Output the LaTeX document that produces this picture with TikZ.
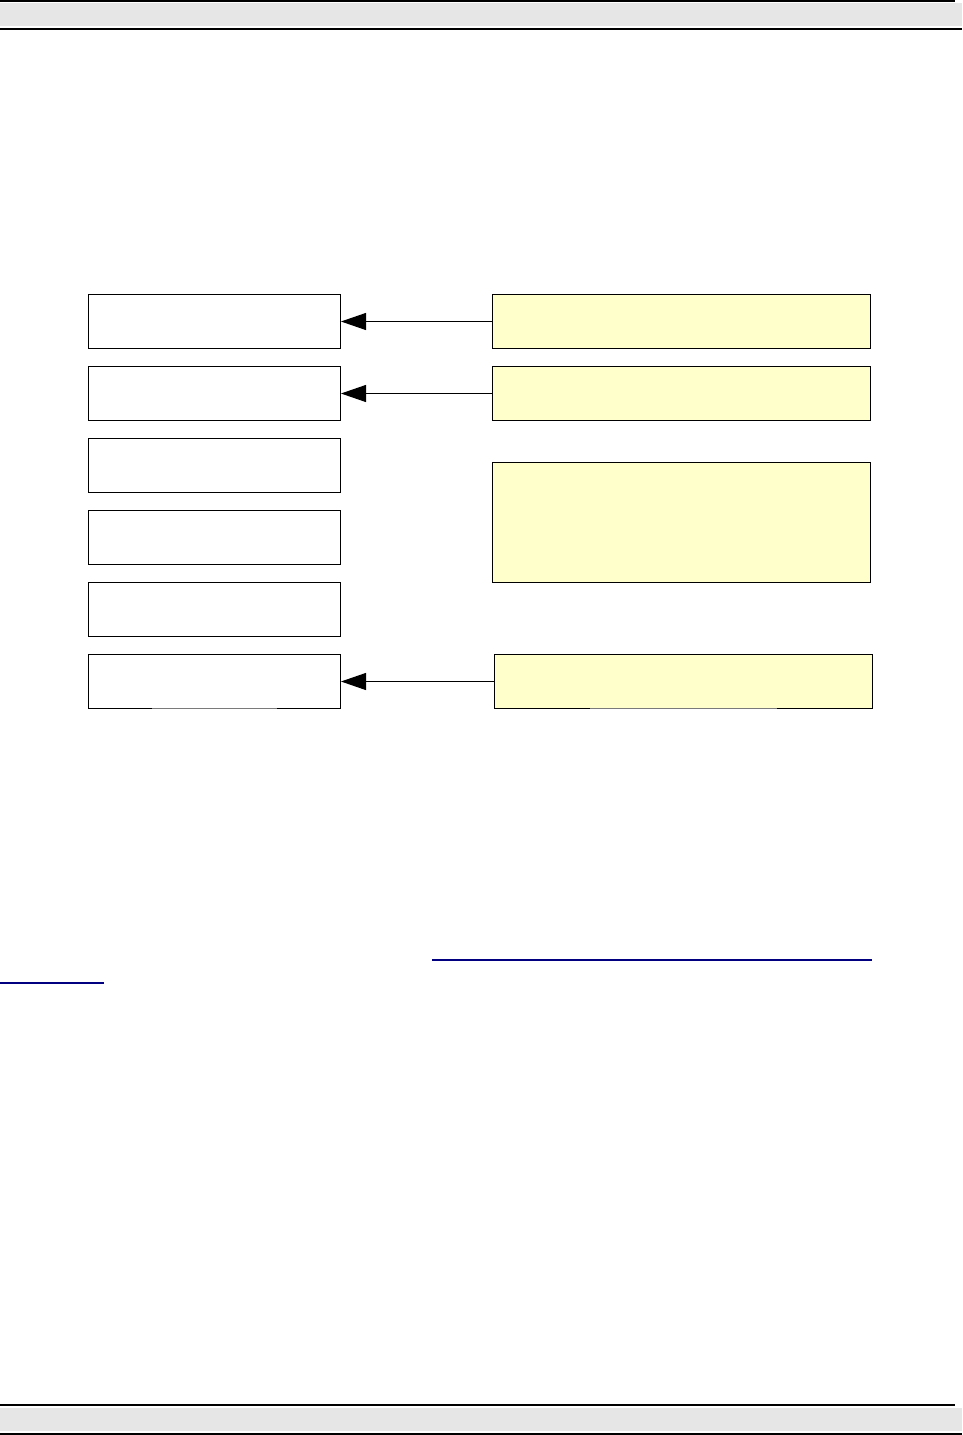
\documentclass[tikz,border=0pt]{standalone}
\usetikzlibrary{arrows.meta}
\definecolor{hdrgray}{HTML}{E6E6E6}
\definecolor{noteyellow}{HTML}{FFFFCC}
\definecolor{linkblue}{HTML}{000080}
\definecolor{edgegray}{HTML}{7A7A7A}
\begin{document}
\begin{tikzpicture}[x=1pt,y=-1pt,
  plainbox/.style={draw=black,line width=1pt,fill=white,inner sep=0pt,anchor=north west,minimum width=252pt,minimum height=54pt},
  notebox/.style={draw=black,line width=1pt,fill=noteyellow,inner sep=0pt,anchor=north west,minimum width=378pt},
  conn/.style={line width=1pt,-{Triangle[length=25pt,width=17pt]}}]
\useasboundingbox (0,0) rectangle (962,1435);
% header
\fill[hdrgray] (0,3) rectangle (962,26);
\draw[line width=1.5pt] (0,1) -- (955,1);
\draw[line width=1.5pt] (0,29) -- (962,29);
% footer
\fill[hdrgray] (0,1408) rectangle (962,1431);
\draw[line width=1.5pt] (0,1405) -- (955,1405);
\draw[line width=1.5pt] (0,1434) -- (962,1434);
% left boxes
\node[plainbox] (l1) at (88,294) {};
\node[plainbox] (l2) at (88,366) {};
\node[plainbox] (l3) at (88,438) {};
\node[plainbox] (l4) at (88,510) {};
\node[plainbox] (l5) at (88,582) {};
\node[plainbox] (l6) at (88,654) {};
% right notes
\node[notebox,minimum height=54pt] (r1) at (492,294) {};
\node[notebox,minimum height=54pt] (r2) at (492,366) {};
\node[notebox,minimum height=120pt] (r3) at (492,462) {};
\node[notebox,minimum height=54pt] (r6) at (494,654) {};
% gray bottom-edge segments
\draw[edgegray,line width=1pt] (152,708) -- (277,708);
\draw[edgegray,line width=1pt] (590,708) -- (777,708);
% connectors
\draw[conn] (r1.west) -- (l1.east);
\draw[conn] (r2.west) -- (l2.east);
\draw[conn] (r6.west) -- (l6.east);
% link underline
\draw[linkblue,line width=1.8pt] (432,960) -- (872,960);
\draw[linkblue,line width=1.8pt] (0,983) -- (104,983);
\end{tikzpicture}
\end{document}
